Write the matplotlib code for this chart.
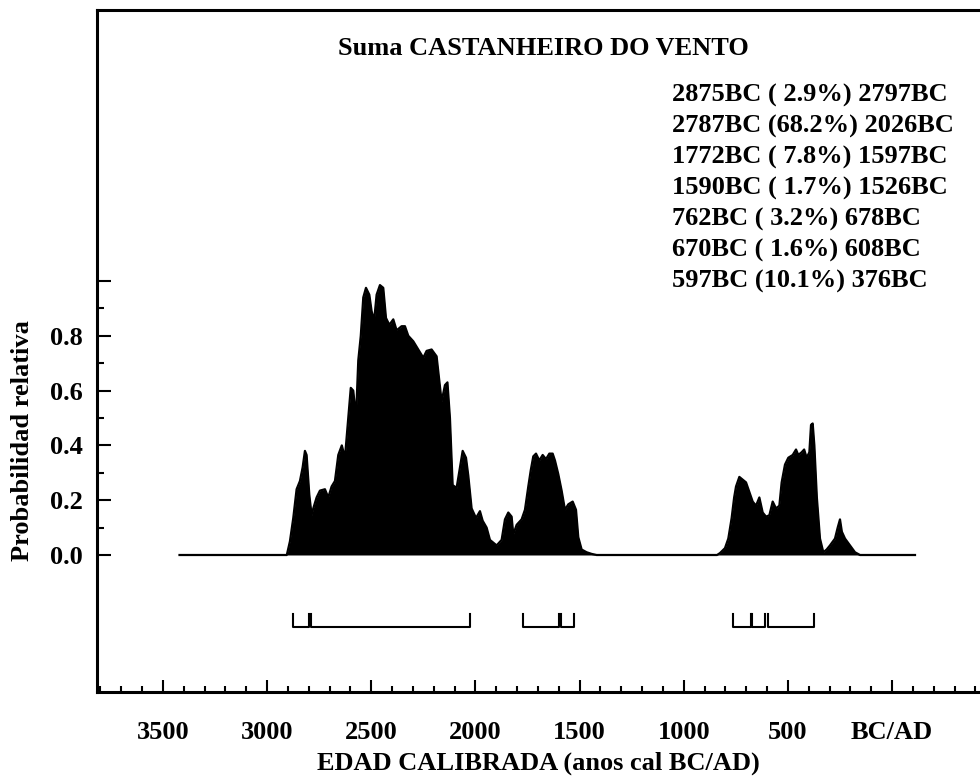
import matplotlib.pyplot as pl
import numpy as np

# Summed probability (years BC, relative probability).
years_early = [3420, 2905, 2890, 2874, 2858, 2842, 2829, 2818, 2810, 2797, 2786,
               2778, 2762, 2746, 2722, 2706, 2690, 2674, 2658, 2641, 2626, 2610,
               2598, 2586, 2573, 2562, 2550, 2538, 2525, 2509, 2498, 2486, 2474,
               2458, 2442, 2429, 2413, 2394, 2378, 2354, 2338, 2322, 2298, 2274,
               2250, 2234, 2210, 2186, 2173, 2162, 2146, 2134, 2122, 2109, 2090,
               2074, 2061, 2045, 2034, 2018, 1997, 1978, 1965, 1946, 1930, 1898,
               1874, 1858, 1842, 1826, 1818, 1802, 1778, 1762, 1746, 1734, 1722,
               1709, 1693, 1677, 1661, 1645, 1629, 1618, 1602, 1586, 1570, 1554,
               1533, 1517, 1506, 1490, 1466, 1442, 1418]
prob_early = [0, 0, 0.05, 0.135, 0.24, 0.27, 0.32, 0.38, 0.365, 0.22, 0.145,
              0.17, 0.21, 0.235, 0.24, 0.21, 0.25, 0.27, 0.365, 0.40, 0.355, 0.50,
              0.61, 0.60, 0.50, 0.71, 0.80, 0.94, 0.975, 0.95, 0.89, 0.855, 0.95,
              0.985, 0.975, 0.865, 0.84, 0.86, 0.82, 0.835, 0.835, 0.80, 0.78, 0.75,
              0.72, 0.745, 0.75, 0.725, 0.635, 0.56, 0.62, 0.63, 0.50, 0.255, 0.245,
              0.32, 0.38, 0.355, 0.29, 0.17, 0.135, 0.16, 0.125, 0.10, 0.055, 0.035,
              0.055, 0.13, 0.155, 0.14, 0.075, 0.11, 0.13, 0.165, 0.25, 0.31, 0.36,
              0.37, 0.345, 0.365, 0.35, 0.37, 0.37, 0.345, 0.295, 0.235, 0.165, 0.185,
              0.195, 0.165, 0.065, 0.02, 0.01, 0.004, 0]

years_late = [840, 826, 802, 786, 770, 758, 749, 733, 717, 701, 685, 669, 653,
              637, 621, 605, 589, 573, 557, 541, 530, 514, 498, 477, 461, 450,
              434, 422, 410, 397, 389, 381, 373, 361, 346, 330, 314, 298, 274,
              261, 250, 241, 226, 202, 178, 154, -110]
prob_late = [0, 0.007, 0.025, 0.06, 0.135, 0.21, 0.25, 0.285, 0.275, 0.265, 0.23,
             0.195, 0.18, 0.21, 0.155, 0.14, 0.145, 0.195, 0.17, 0.18, 0.265, 0.33,
             0.355, 0.365, 0.385, 0.365, 0.375, 0.385, 0.355, 0.375, 0.475, 0.48,
             0.40, 0.21, 0.06, 0.01, 0.02, 0.035, 0.06, 0.10, 0.13, 0.085, 0.06,
             0.035, 0.01, 0, 0]

# 68.2% ranges (start BC, end BC)
range_start = [2875, 2787, 1772, 1590, 762, 670, 597]
range_end = [2797, 2026, 1597, 1526, 678, 608, 376]
range_pct = ['2.9', '68.2', '7.8', '1.7', '3.2', '1.6', '10.1']

tick_years = [3500, 3000, 2500, 2000, 1500, 1000, 500, 0]
tick_names = ['3500', '3000', '2500', '2000', '1500', '1000', '500', 'BC/AD']

FONT = dict(family='Liberation Serif', weight='bold', size=19)


def main():
    pl.rcParams['font.family'] = 'Liberation Serif'
    pl.rcParams['font.weight'] = 'bold'

    fig = pl.figure(figsize=(9.8, 7.8), dpi=100)
    ax = fig.add_axes([97 / 980, 88 / 780, 883 / 980, 682 / 780])

    years = np.array(years_early + years_late, dtype=float)
    prob = np.array(prob_early + prob_late)
    x = -years
    ax.fill_between(x, prob, 0, color='black', lw=0)
    ax.plot(x, prob, color='black', lw=1.6)

    # Range brackets below the curve
    y_line, y_top = -0.263, -0.215
    for s, e in zip(range_start, range_end):
        ax.plot([-s, -s, -e, -e], [y_top, y_line, y_line, y_top],
                color='black', lw=1.5)

    ax.set_xlim(-3816, 422)
    ax.set_ylim(-0.5, 1.989)

    ax.set_xticks([-t for t in tick_years])
    ax.set_xticklabels(tick_names, fontdict=FONT)
    ax.set_xticks(np.arange(-3800, 401, 100), minor=True)
    ax.set_yticks([0, 0.2, 0.4, 0.6, 0.8, 1.0])
    ax.set_yticklabels(['0.0', '0.2', '0.4', '0.6', '0.8', ''], fontdict=FONT)
    ax.set_yticks([0.1, 0.3, 0.5, 0.7, 0.9], minor=True)

    ax.tick_params(axis='x', which='major', direction='in', length=9, width=1.5, pad=21)
    ax.tick_params(axis='x', which='minor', direction='in', length=4, width=1.5)
    ax.tick_params(axis='y', which='major', direction='in', length=10, width=1.5, pad=10)
    ax.tick_params(axis='y', which='minor', direction='in', length=5, width=1.5)

    for side in ['left', 'top', 'bottom']:
        ax.spines[side].set_linewidth(2.2)
    ax.spines['right'].set_visible(False)

    fig.text(543 / 980, 1 - 55 / 780, 'Suma CASTANHEIRO DO VENTO',
             ha='center', va='baseline', **FONT)
    for i, (s, p, e) in enumerate(zip(range_start, range_pct, range_end)):
        line = '%dBC (%4s%%) %dBC' % (s, p, e)
        fig.text(672 / 980, 1 - (102 + 31 * i) / 780, line,
                 ha='left', va='baseline', **FONT)

    fig.text(23 / 980, 1 - 441 / 780, 'Probabilidad relativa', rotation=90,
             ha='center', va='center', **FONT)
    fig.text(538 / 980, 1 - 763 / 780, 'EDAD CALIBRADA (anos cal BC/AD)',
             ha='center', va='center', **FONT)

    fig.savefig('out.png', dpi=100)


if __name__ == '__main__':
    main()
